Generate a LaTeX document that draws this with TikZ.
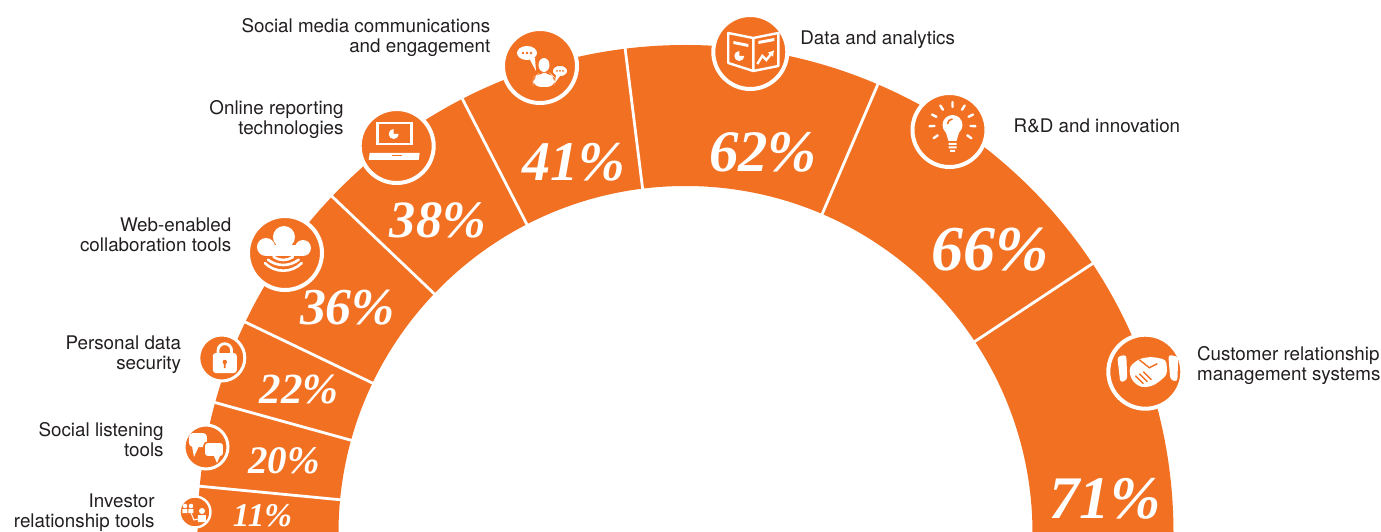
\documentclass[tikz,border=0pt]{standalone}
\usepackage{fontspec}
\setmainfont{TeX Gyre Heros}
\newfontfamily\pctfont{Liberation Serif}
\usetikzlibrary{arrows.meta}
\definecolor{pwcorange}{RGB}{242,112,34}
\definecolor{labelgray}{RGB}{35,31,32}

\begin{document}
\begin{tikzpicture}[x=0.5pt,y=0.5pt,>/.tip={Latex[length=3pt,width=3.5pt]},
	bigicon/.style={circle,fill=pwcorange,draw=white,line width=2pt,minimum size=37pt,inner sep=0},
	smallicon/.style={circle,fill=pwcorange,draw=white,line width=1.5pt,minimum size=#1,inner sep=0},
	pct/.style={font=\pctfont\bfseries\itshape\fontsize{#1}{#1}\selectfont,text=white,inner sep=0},
	lbl/.style={font=\fontsize{9.4}{10}\selectfont,text=labelgray,inner sep=0}]
	\useasboundingbox (-685.5,2) rectangle (695.5,533);
	\clip (-685.5,2) rectangle (695.5,533);
	% the ring and its cuts
	\fill[pwcorange] (0:488) arc (0:180:488) -- (180:347) arc (180:0:347) -- cycle;
	\draw[white,line width=1.4pt] (174.5:340) -- (174.5:495) (164.5:340) -- (164.5:495) (154.4:340) -- (154.4:495)
		(136.4:340) -- (136.4:495) (117.2:340) -- (117.2:495) (97.1:340) -- (97.1:495)
		(66.8:340) -- (66.8:495) (33.5:340) -- (33.5:495);
	% icon discs
	\node[bigicon] (crm) at (459.8,161.3) {};
	\node[bigicon] (bulb) at (264,403) {};
	\node[bigicon] (data) at (64.8,481) {};
	\node[bigicon] (social) at (-145.5,467) {};
	\node[bigicon] (laptop) at (-288.8,387) {};
	\node[bigicon] (cloud) at (-400.5,280) {};
	\node[smallicon=23pt] (lock) at (-463.7,175) {};
	\node[smallicon=22pt] (listen) at (-479.5,86) {};
	\node[smallicon=15.5pt,line width=1.2pt] (investor) at (-490.5,21) {};
	% social media
	\begin{scope}[shift={(social)}]
		\fill[white] (-13,13) ellipse (10 and 7);
		\fill[white] (-11,8) -- (-4,-5) -- (-5,8) -- cycle;
		\fill[pwcorange] (-17,13) circle (1.3) (-13,13) circle (1.3) (-9,13) circle (1.3);
		\fill[white] (4,1) ellipse (5.5 and 7);
		\fill[white,rounded corners=4] (-7,-21) -- (-7,-12) -- (-1,-7) -- (10,-7) -- (15,-12) -- (15,-21) -- cycle;
		\filldraw[fill=white,draw=pwcorange,line width=0.8pt] (20,-5) ellipse (8 and 6);
		\fill[white] (16,-9) -- (15,-17) -- (20,-10) -- cycle;
		\fill[pwcorange] (17,-5) circle (1) (20,-5) circle (1) (23,-5) circle (1);
	\end{scope}
	% laptop
	\begin{scope}[shift={(laptop)}]
		\draw[white,line width=1.3pt] (-19,2) rectangle (15,23);
		\fill[white] (-3,12) -- ++(90:5) arc (90:360:5) -- cycle;
		\fill[white] (-27,-7) -- (23,-7) -- (22,-14) -- (-28,-14) -- cycle;
		\fill[pwcorange] (-5,-9) rectangle (5,-10.5);
	\end{scope}
	% cloud
	\begin{scope}[shift={(cloud)}]
		\fill[white] (-1,16) circle (11);
		\fill[white] (-19,6) circle (9);
		\fill[white] (18,5) circle (8);
		\fill[white] (-19,-3) rectangle (18,8);
		\draw[white,line width=1.3pt,line cap=round] (-1.7,10) ++(235:17) arc (235:305:17)
			(-1.7,13) ++(232:25) arc (232:308:25) (-1.7,8.3) ++(225:26) arc (225:315:26);
	\end{scope}
	% lock
	\begin{scope}[shift={(lock)}]
		\draw[white,line width=1.4pt] (-3.8,5) -- (-3.8,7.5) arc (180:0:6.8) -- (9.8,5);
		\fill[white,rounded corners=1.5] (-9,-15) rectangle (15,5);
		\fill[pwcorange] (3,-4) circle (2.2) (2.2,-4) rectangle (3.8,-10);
	\end{scope}
	% social listening
	\begin{scope}[shift={(listen)}]
		\fill[white,rounded corners=2] (-17,0) rectangle (1,14);
		\fill[white] (-14,1) -- (-12,-10) -- (-7,1) -- cycle;
		\filldraw[fill=white,draw=pwcorange,line width=0.8pt,rounded corners=2] (-2,-10) rectangle (18,5);
		\fill[white] (8,-9) -- (11,-16) -- (14,-9) -- cycle;
	\end{scope}
	% investor
	\begin{scope}[shift={(investor)}]
		\fill[white] (-10,6) circle (2.3) (-4,6) circle (2.3) (7,1) circle (3);
		\fill[white] (-12.5,-1) rectangle (-7.5,3) (-6.5,-1) rectangle (-1.5,3) (3,-10) rectangle (11,-3);
		\draw[white,line width=0.5pt] (-4,-1) -- (-1,-8) -- (3,-7);
	\end{scope}
	% data and analytics
	\begin{scope}[shift={(data)}]
		\draw[white,line width=1.2pt,line join=round] (-22,19) -- (3,14) -- (28,19) -- (28,-14) -- (3,-19) -- (-22,-11) -- cycle (3,14) -- (3,-19);
		\fill[white] (-17,11) -- (-2,8) -- (-2,5) -- (-17,8) -- cycle;
		\fill[white] (-11,-4) -- ++(90:5) arc (90:360:5) -- cycle;
		\fill[white] (8,11) -- (24,14) -- (24,11) -- (8,8) -- cycle;
		\draw[->,white,line width=1.2pt] (7,-12) -- (12,-4) -- (16,-8) -- (24,2);
	\end{scope}
	% R&D bulb
	\begin{scope}[shift={(bulb)}]
		\fill[white] (3,5) circle (10);
		\fill[white] (-4,-1) -- (10,-1) -- (7,-11) -- (-1,-11) -- cycle;
		\fill[white] (-1,-13) rectangle (7,-15) (-1,-16.5) rectangle (7,-18.5) (0.5,-20) rectangle (5.5,-22);
		\draw[pwcorange,line width=0.8pt] (-2,6) arc (180:90:5);
		\draw[white,line width=1.2pt,line cap=round] (3,5) ++(90:18) -- ++(90:5) (3,5) ++(58:18) -- ++(58:5)
			(3,5) ++(122:18) -- ++(122:5) (3,5) ++(27:18) -- ++(27:5) (3,5) ++(153:18) -- ++(153:5)
			(3,5) ++(-3:18) -- ++(-3:5) (3,5) ++(183:18) -- ++(183:5) (3,5) ++(-35:18) -- ++(-35:5)
			(3,5) ++(215:18) -- ++(215:5);
	\end{scope}
	% handshake
	\begin{scope}[shift={(crm)}]
		\fill[white,rounded corners=1.5] (-28,15) -- (-19,17) -- (-18,-8) -- (-25,-11) -- cycle;
		\fill[white,rounded corners=1.5] (23,17) -- (33,15) -- (32,-10) -- (25,-8) -- cycle;
		\fill[white,rounded corners=2] (-16,5) -- (-6,13) -- (6,15) -- (21,12) -- (22,-3) -- (10,-13) -- (0,-16) -- (-8,-14) -- (-15,-6) -- cycle;
		\draw[pwcorange,line width=0.7pt] (-6,12) -- (4,4) -- (12,8) (-10,-4) -- (-2,-12) (-6,-2) -- (2,-10) (-2,0) -- (6,-8);
	\end{scope}
	% shares
	\node[pct=30.2] (p71) at (419.5,34) {71\%};
	\node[pct=32] (p66) at (304.5,283) {66\%};
	\node[pct=29.4] (p62) at (77.5,381) {62\%};
	\node[pct=28] (p41) at (-111.5,371) {41\%};
	\node[pct=26.2] (p38) at (-247.5,313) {38\%};
	\node[pct=25.9] (p36) at (-338,225.5) {36\%};
	\node[pct=21.5] (p22) at (-386.5,144) {22\%};
	\node[pct=19.5] (p20) at (-401.5,72) {20\%};
	\node[pct=16.6] (p11) at (-423,17) {11\%};
	% labels
	\node[lbl,align=right,anchor=base east] (lsocial) at (-194.8,480.7) {Social media communications\\and engagement};
	\node[lbl,align=right,anchor=base east] (lonline) at (-341.5,398) {Online reporting\\technologies};
	\node[lbl,align=right,anchor=base east] (lweb) at (-453.8,281.3) {Web-enabled\\collaboration tools};
	\node[lbl,align=right,anchor=base east] (lpersonal) at (-504,163.5) {Personal data\\security};
	\node[lbl,align=right,anchor=base east] (llisten) at (-521.5,76.3) {Social listening\\tools};
	\node[lbl,align=right,anchor=base east] (linvestor) at (-530.5,6) {Investor\\relationship tools};
	\node[lbl,anchor=base west] (ldata) at (114.5,488) {Data and analytics};
	\node[lbl,anchor=base west] (lrd) at (327.8,400.7) {R\&D and innovation};
	\node[lbl,align=left,anchor=base west] (lcrm) at (511.2,153) {Customer relationship\\management systems};
\end{tikzpicture}
\end{document}
